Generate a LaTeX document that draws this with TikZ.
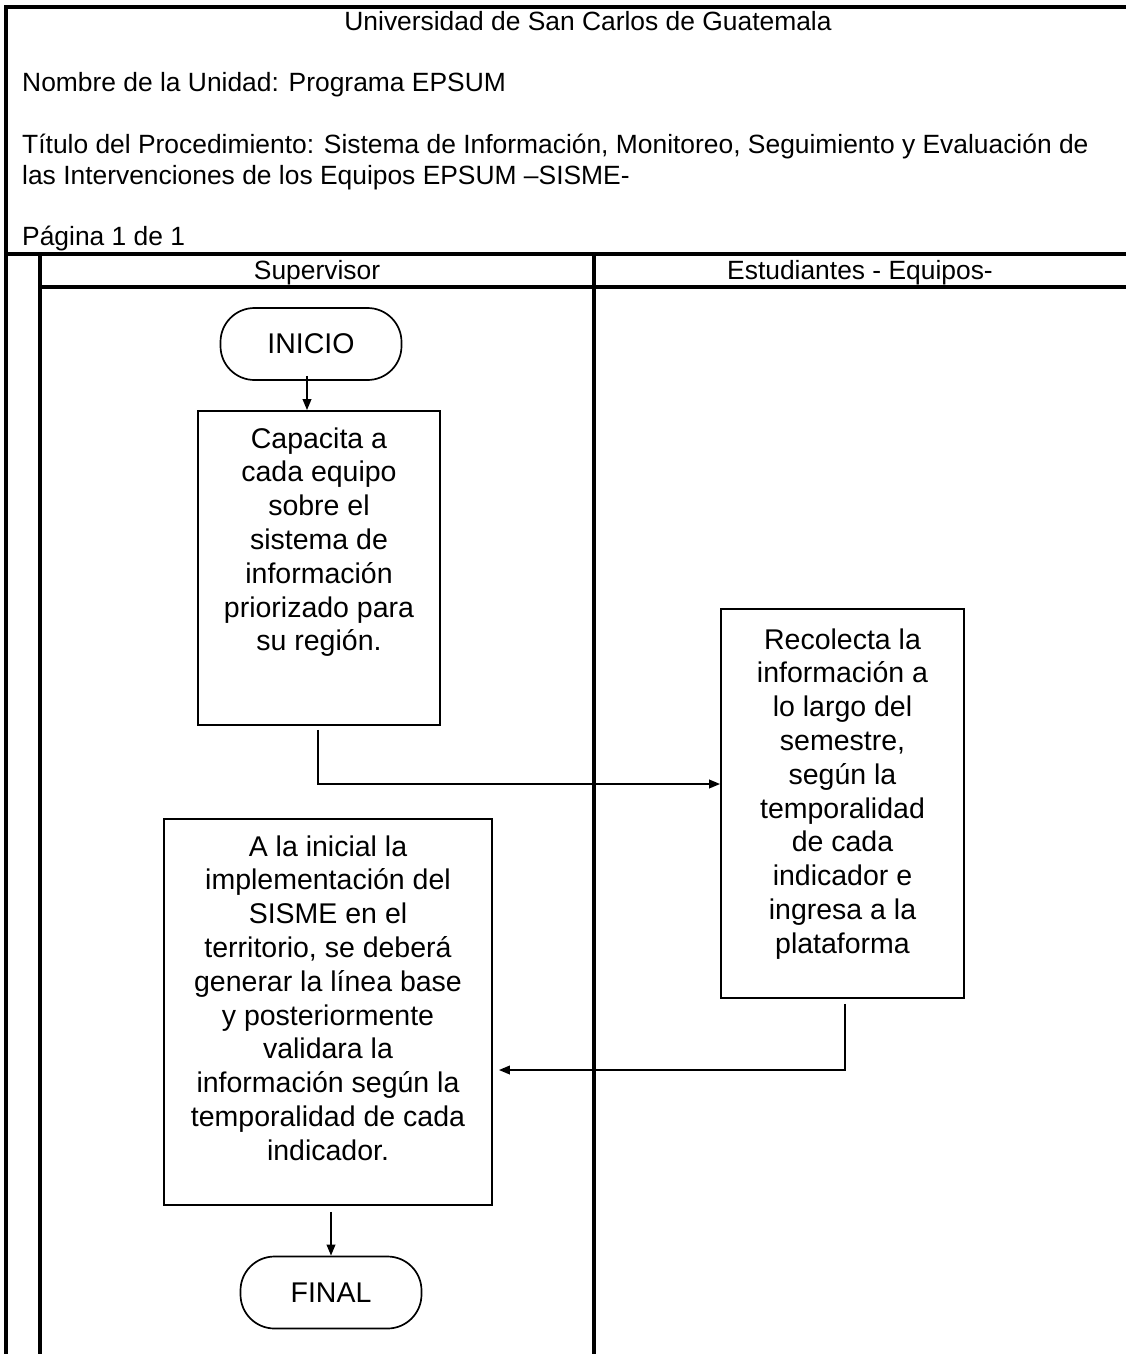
\documentclass[tikz,border=0pt]{standalone}
\usepackage{fontspec}
\setmainfont{Liberation Sans}
\usetikzlibrary{arrows.meta}

\begin{document}
\begin{tikzpicture}[x=1pt,y=-1pt,
  frame/.style={line width=3.1pt},
  hdr/.style={font=\fontsize{26.4}{31}\selectfont, inner sep=0pt},
  procbox/.style={draw, line width=1.7pt, inner sep=0pt,
    font=\fontsize{28.5}{33.8}\selectfont},
  terminal/.style={draw, line width=1.7pt, rounded corners=34pt,
    minimum width=181pt, minimum height=72pt, inner sep=0pt,
    font=\fontsize{28.5}{33.8}\selectfont},
  flow/.style={line width=2pt, -{Triangle[length=11pt,width=8.5pt]}}]

\useasboundingbox (0,0) rectangle (1126,1354);

% page frame and lane grid
\draw[frame] (1126,7) -- (6,7) -- (6,1354);
\draw[frame] (6,254) -- (1126,254);
\draw[frame] (40,254) -- (40,1354);
\draw[frame] (40,287) -- (1126,287);
\draw[frame] (594,254) -- (594,1354);

% document header
\node[hdr, anchor=base] (uni) at (588,31) {Universidad de San Carlos de Guatemala};
\node[hdr, anchor=base west] (unidad) at (22,92) {Nombre de la Unidad: Programa EPSUM};
\node[hdr, anchor=base west] (titulo1) at (22,153) {Título del Procedimiento: Sistema de Información, Monitoreo, Seguimiento y Evaluación de};
\node[hdr, anchor=base west] (titulo2) at (22,184) {las Intervenciones de los Equipos EPSUM –SISME-};
\node[hdr, anchor=base west] (pagina) at (22,245) {Página 1 de 1};

% lane titles
\node[hdr, anchor=base] (lane1) at (317,279) {Supervisor};
\node[hdr, anchor=base] (lane2) at (860,279) {Estudiantes - Equipos-};

% flow nodes
\node[terminal] (ini) at (311,344) {INICIO};

\node[procbox] (b1) at (319,568)
  {\parbox[c][314pt][t]{242pt}{\centering\rule{0pt}{37pt}Capacita a\\cada equipo\\sobre el\\sistema de\\información\\priorizado para\\su región.}};

\node[procbox] (b2) at (842.5,803.5)
  {\parbox[c][389pt][t]{243pt}{\centering\rule{0pt}{40pt}Recolecta la\\información a\\lo largo del\\semestre,\\según la\\temporalidad\\de cada\\indicador e\\ingresa a la\\plataforma}};

\node[procbox] (b3) at (328,1012)
  {\parbox[c][386pt][t]{328pt}{\centering\rule{0pt}{37pt}A la inicial la\\implementación del\\SISME en el\\territorio, se deberá\\generar la línea base\\y posteriormente\\validara la\\información según la\\temporalidad de cada\\indicador.}};

\node[terminal] (fin) at (331,1292.5) {FINAL};

% connectors
\draw[flow] ([xshift=-4pt,yshift=5pt]ini.south) -- ([xshift=-4pt]ini.south |- b1.north);
\draw[flow] ([xshift=-1pt,yshift=-4pt]b1.south) |- ([yshift=19.5pt]b2.west);
\draw[flow] ([xshift=2.5pt,yshift=-5pt]b2.south) |- ([xshift=6pt,yshift=-58pt]b3.east);
\draw[flow] ([yshift=-6pt]b3.south -| fin.north) -- (fin.north);

\end{tikzpicture}
\end{document}
